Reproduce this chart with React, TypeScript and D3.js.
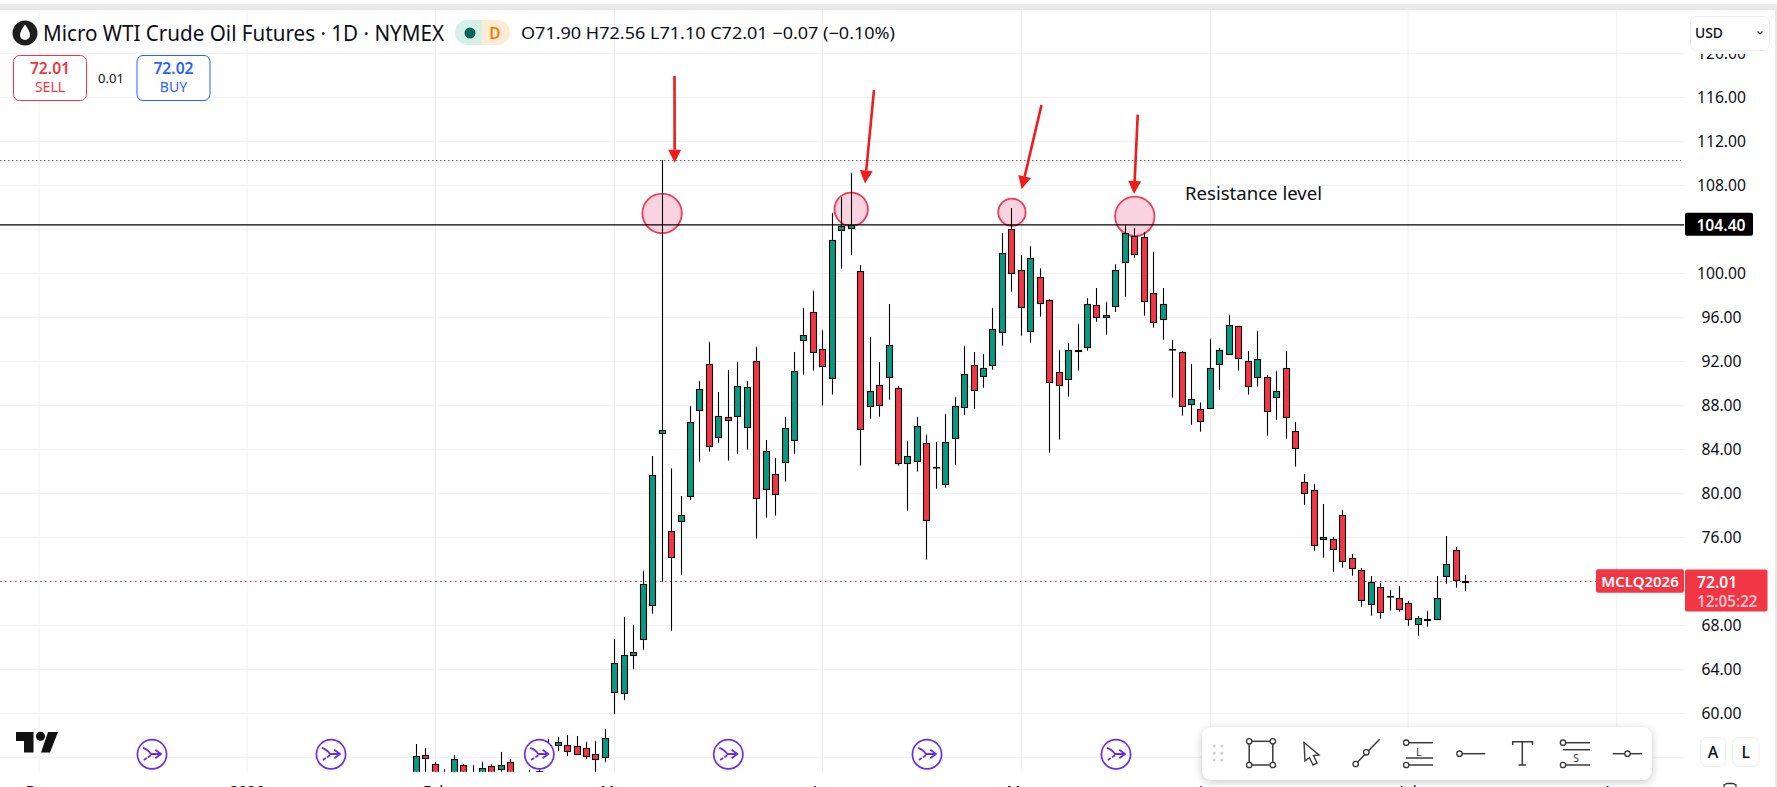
import React from "react";
import * as d3 from "d3";

const opens = [54.24,56.18,55.36,54.55,54.24,55.27,54.4,54.24,55.18,54.91,55.55,54.4,54.55,54.24,56.06,57.15,57.09,57.0,56.82,56.27,56.06,61.97,61.88,65.33,66.79,69.81,85.51,76.54,77.45,79.72,87.54,91.73,85.09,86.91,86.99,86.0,92.0,80.36,81.73,82.82,84.82,93.91,96.45,93.09,90.45,103.91,104.09,100.18,87.91,89.82,90.54,89.54,82.73,82.91,84.54,82.42,80.82,85.0,87.82,91.63,90.63,91.63,94.63,104.0,100.27,94.73,99.63,97.54,91.0,90.36,93.03,93.27,97.09,96.0,97.0,101.0,103.36,103.27,98.18,95.82,93.15,92.82,88.09,87.63,87.73,91.73,92.63,95.18,92.0,90.54,90.54,88.73,91.36,85.63,81.0,80.27,75.81,75.81,78.0,74.09,73.0,69.9,71.45,70.69,70.45,70.0,68.09,68.56,68.54,72.45,74.81,71.9];
const highs = [57.21,56.82,55.58,54.91,56.18,55.39,55.3,55.58,55.36,56.49,55.82,54.55,54.85,55.76,57.67,57.85,58.03,57.94,57.39,57.49,58.58,66.76,68.76,68.03,72.94,83.39,110.3,82.27,79.75,87.94,90.21,93.76,89.21,91.21,91.94,90.21,93.3,84.85,83.21,86.94,92.85,96.85,98.39,94.85,105.48,106.97,109.12,100.73,94.21,91.94,97.21,89.76,84.76,86.94,85.3,84.66,87.21,88.76,93.39,92.85,92.66,96.85,103.66,105.94,101.63,102.45,100.45,97.63,93.03,93.66,95.39,97.73,98.66,97.39,100.82,104.42,104.09,103.73,101.94,98.66,93.94,92.94,91.76,88.27,94.03,93.21,96.21,95.18,92.94,94.76,90.76,91.12,92.94,86.48,81.75,80.84,79.03,76.03,78.48,74.48,73.21,72.48,71.87,71.21,71.57,70.21,68.84,69.3,72.48,76.12,75.12,72.56];
const lows = [53.94,53.94,53.94,54.0,54.0,54.0,53.8,54.0,54.0,54.55,54.24,53.9,54.0,54.0,55.76,56.58,56.12,56.33,55.85,54.55,55.58,59.94,61.21,64.03,65.76,69.06,71.97,67.51,72.6,79.39,82.88,83.79,84.6,82.97,83.6,83.97,75.88,77.79,77.97,81.06,83.6,90.79,91.15,87.97,88.97,100.42,101.69,82.51,86.78,86.97,88.51,82.51,78.42,81.97,73.97,80.42,80.51,82.6,87.12,87.69,89.6,91.24,93.42,98.33,94.33,93.7,96.06,83.69,84.88,88.79,91.15,92.97,95.6,94.42,96.48,97.88,101.42,96.15,95.06,93.97,88.7,87.06,86.24,85.6,87.73,89.42,92.63,91.15,88.97,89.7,85.24,86.69,84.97,82.42,78.96,74.78,74.15,72.87,73.24,72.51,69.69,68.87,68.6,69.33,69.24,67.96,67.06,67.87,68.54,71.78,71.42,71.1];
const closes = [56.09,55.91,54.24,54.09,55.82,54.24,53.94,55.0,54.24,55.27,54.55,54.1,54.24,54.79,57.12,57.36,56.61,56.33,56.15,55.88,57.73,64.55,65.27,65.55,71.73,81.63,85.72,74.18,78.0,86.45,89.45,84.27,86.99,86.63,89.73,89.63,79.54,83.82,79.91,85.91,91.09,94.36,92.82,91.54,103.0,104.27,104.36,85.82,89.27,88.0,93.45,82.73,83.36,86.09,77.54,82.36,84.63,87.91,90.82,89.36,91.36,94.91,101.82,100.0,96.91,101.36,97.27,90.09,89.82,93.0,92.97,97.18,96.0,96.18,100.27,103.63,101.72,97.45,95.54,97.18,93.09,87.91,88.54,86.54,91.36,93.0,95.27,92.27,89.73,92.18,87.45,89.27,86.91,84.09,80.0,75.27,76.0,74.9,73.81,73.18,70.27,71.9,69.18,70.63,69.45,68.54,68.63,68.52,70.45,73.54,72.09,72.01];

const priceTicks = [116,112,108,100,96,92,88,84,80,76,68,64,60];
const clippedTick = 120;
const gridPrices = [120,116,112,108,104,100,96,92,88,84,80,76,72,68,64,60,56];
const gridXs = [39,247,435.7,614.5,822.5,1021.7,1210.4,1408,1616.7];
const timeLabels = ["Dec","2026","Feb","Mar","Apr","May","Jun","Jul","Aug"];
const dividendXs = [152,331,539.3,728.3,927,1116];

const circleIdx = [26,46,63,76];
const circlePrice = [105.45,105.82,105.55,105.18];
const circleR = [19.7,16.7,13.7,19.7];
const arrowFromIdx = [27.31,48.41,66.13,76.31];
const arrowFromPrice = [117.94,116.66,115.3,114.43];
const arrowToIdx = [27.33,47.46,64.03,75.92];
const arrowToPrice = [110.05,108.16,107.64,107.21];

const resistance = 104.4;
const highLevel = 110.3;
const lastPrice = 72.01;

const W = 1777, H = 787;
const y = d3.scaleLinear().domain([116, 60]).range([97.3, 713.3]);
const x = d3.scaleLinear().domain([0, 111]).range([416.3, 1465.7]);
const FONT = "'Noto Sans', sans-serif";
const GREEN = "#089981", RED = "#f23645", PURPLE = "#6a2cf5", INK = "#0b0e14";
const snap = (v: number) => Math.floor(v) + 0.5;

function Arrow({ x1, y1, x2, y2 }: { x1: number; y1: number; x2: number; y2: number }) {
  const a = Math.atan2(y2 - y1, x2 - x1);
  const len = 13, hw = 6.5;
  const bx = x2 - len * Math.cos(a), by = y2 - len * Math.sin(a);
  const nx = -Math.sin(a), ny = Math.cos(a);
  return (
    <g>
      <line x1={x1} y1={y1} x2={bx} y2={by} stroke="#ee1c1c" strokeWidth={2.6} />
      <polygon points={`${x2},${y2} ${bx + nx * hw},${by + ny * hw} ${bx - nx * hw},${by - ny * hw}`} fill="#ee1c1c" />
    </g>
  );
}

function Dividend({ cx }: { cx: number }) {
  const cy = 754.3;
  return (
    <g>
      <circle cx={cx} cy={cy} r={14.6} fill="#fff" stroke={PURPLE} strokeWidth={1.7} />
      <path d={`M${cx - 9},${cy - 6.5} Q${cx - 4},${cy - 5} ${cx - 1},${cy - 0.3} L${cx + 9},${cy - 0.3}`} fill="none" stroke={PURPLE} strokeWidth={1.8} />
      <path d={`M${cx + 3.3},${cy - 4.5} L${cx + 9},${cy - 0.3} L${cx + 3.3},${cy + 4}`} fill="none" stroke={PURPLE} strokeWidth={1.8} />
      <path d={`M${cx - 1},${cy + 1} L${cx - 8.7},${cy + 6}`} fill="none" stroke={PURPLE} strokeWidth={1.8} strokeDasharray="3.5,1.5" />
    </g>
  );
}

function Toolbar() {
  const s = "#3a3a3a";
  const dot = (cx: number, cy: number) => <circle cx={cx} cy={cy} r={2.7} fill="#fff" stroke={s} strokeWidth={1.3} />;
  const ln = (a: number, b: number, c: number, d: number, w = 1.5) => <line x1={a} y1={b} x2={c} y2={d} stroke={s} strokeWidth={w} />;
  return (
    <g>
      <rect x={1202} y={727} width={450} height={53} rx={9} fill="#fff" style={{ filter: "drop-shadow(0 2px 4px rgba(0,0,0,0.22))" }} />
      {[1214.2, 1221.8].flatMap((gx) => [746, 753.3, 760].map((gy) => <circle key={gx + "-" + gy} cx={gx} cy={gy} r={1.5} fill="#cfcfcf" />))}
      <rect x={1249.2} y={741.3} width={23.6} height={23.7} fill="none" stroke={s} strokeWidth={1.5} />
      {dot(1249.2, 741.3)}{dot(1272.8, 741.3)}{dot(1249.2, 765)}{dot(1272.8, 765)}
      <path d="M1304,742.5 L1319,755 L1313.5,755.5 L1317,763 L1313,765 L1309.5,757.5 L1305,761 Z" fill="#fff" stroke={s} strokeWidth={1.4} />
      {ln(1355.7, 764, 1379.6, 739.3)}{dot(1355.7, 764)}{dot(1366.3, 752.3)}
      {ln(1406, 742.7, 1433, 742.7)}{ln(1406, 758, 1433, 758)}{ln(1406, 765, 1433, 765)}{dot(1406.2, 742.7)}{dot(1406.2, 765)}
      <text x={1419} y={755.5} fontSize={11} fontFamily={FONT} fill={s} textAnchor="middle">L</text>
      {ln(1459.5, 753.7, 1485.3, 753.7)}{dot(1459.5, 753.7)}
      <path d="M1512.7,745 L1512.7,741.7 L1532.5,741.7 L1532.5,745 M1522.3,741.7 L1522.3,765 M1518.5,765 L1526,765" fill="none" stroke={s} strokeWidth={1.5} />
      {ln(1563, 742.7, 1590, 742.7)}{ln(1563, 749.7, 1590, 749.7)}{ln(1563, 765, 1590, 765)}{dot(1563, 742.7)}{dot(1563, 765)}
      <text x={1576} y={761.5} fontSize={11} fontFamily={FONT} fill={s} textAnchor="middle">S</text>
      {ln(1612.7, 753.7, 1642, 753.7)}{dot(1627.5, 753.7)}
    </g>
  );
}

export default function App() {
  return (
    <svg width={W} height={H} viewBox={`0 0 ${W} ${H}`} style={{ position: "fixed", left: 0, top: 0, background: "#fff" }} fontFamily={FONT}>
      <defs>
        <clipPath id="pane"><rect x={0} y={10} width={1684} height={761.7} /></clipPath>
        <clipPath id="axis"><rect x={1685} y={54} width={90} height={720} /></clipPath>
      </defs>
      <rect x={0} y={4} width={W} height={6} fill="#e9e9e9" />
      <rect x={W - 2} y={4} width={2} height={H} fill="#e9e9e9" />

      <g clipPath="url(#pane)">
        {gridXs.map((gx) => <line key={gx} x1={gx} x2={gx} y1={10} y2={771.7} stroke="#f0f0f0" />)}
        {gridPrices.map((p) => <line key={p} x1={0} x2={1684} y1={y(p)} y2={y(p)} stroke="#f0f0f0" />)}
        <line x1={0} x2={1681} y1={Math.floor(y(highLevel)) + 0.5} y2={Math.floor(y(highLevel)) + 0.5} stroke="#7d6a6a" strokeDasharray="1.5,2.5" />
        <line x1={0} x2={1596} y1={Math.floor(y(lastPrice)) + 0.5} y2={Math.floor(y(lastPrice)) + 0.5} stroke={RED} strokeDasharray="1.6,3.4" />
        {circleIdx.map((ci, k) => (
          <circle key={ci} cx={x(ci)} cy={y(circlePrice[k])} r={circleR[k]} fill="#fad2e0" stroke="#f23a55" strokeWidth={1.8} />
        ))}
        {opens.map((o, i) => {
          const c = closes[i];
          const cx = snap(x(i));
          const top = Math.round(y(Math.max(o, c))) + 0.5;
          const bot = Math.round(y(Math.min(o, c))) + 0.5;
          return (
            <g key={i}>
              <line x1={cx} x2={cx} y1={y(highs[i])} y2={y(lows[i])} stroke="#000" strokeWidth={1.1} />
              <rect x={cx - 3} y={top} width={6} height={Math.max(bot - top, 0.5)} fill={c >= o ? GREEN : RED} stroke="#000" strokeWidth={1.1} />
            </g>
          );
        })}
        <line x1={0} x2={1684} y1={y(resistance)} y2={y(resistance)} stroke="#000" strokeWidth={1.3} />
      </g>

      {arrowFromIdx.map((ai, k) => (
        <Arrow key={ai} x1={x(ai)} y1={y(arrowFromPrice[k])} x2={x(arrowToIdx[k])} y2={y(arrowToPrice[k])} />
      ))}
      <text x={1185} y={200} fontSize={17.5} fill={INK} textLength={137} lengthAdjust="spacingAndGlyphs">Resistance level</text>

      <path d="M16,732 H33.5 V752.5 H24 V741 H16 Z" fill="#111" />
      <circle cx={40.5} cy={736.3} r={4.5} fill="#111" />
      <path d="M48,732 H58 L50,752.5 H41 Z" fill="#111" />
      {dividendXs.map((d) => <Dividend key={d} cx={d} />)}

      {timeLabels.map((t, k) => (
        <text key={t} x={gridXs[k]} y={796} fontSize={15} fill={INK} textAnchor="middle">{t}</text>
      ))}

      {/* price axis */}
      <g clipPath="url(#axis)" fontSize={15.7} fill={INK} textAnchor="middle">
        <text x={1721.5} y={y(clippedTick) + 5.6}>120.00</text>
        {priceTicks.map((t) => <text key={t} x={1721.5} y={y(t) + 5.6}>{t.toFixed(2)}</text>)}
      </g>
      <rect x={1685} y={212.7} width={68} height={23} rx={2} fill="#000" />
      <text x={1721} y={y(resistance) + 6} fontSize={15.7} fontWeight={600} fill="#fff" textAnchor="middle">{resistance.toFixed(2)}</text>
      <rect x={1596} y={569.3} width={88} height={23.4} rx={2} fill={RED} />
      <text x={1640} y={586.5} fontSize={15} fontWeight={600} fill="#fff" textAnchor="middle">MCLQ2026</text>
      <rect x={1685} y={569.6} width={82.5} height={42} rx={2} fill={RED} />
      <text x={1697} y={588} fontSize={15.7} fontWeight={600} fill="#fff">{lastPrice.toFixed(2)}</text>
      <text x={1697} y={607} fontSize={15.2} fontWeight={600} fill="#fbc3c9">12:05:22</text>

      {/* header */}
      <circle cx={25} cy={33} r={12.5} fill="#1e1e1e" />
      <path d="M25,24.5 C28,29 30,32 30,35 A5,5 0 0 1 20,35 C20,32 22,29 25,24.5 Z" fill="#fff" />
      <text x={43} y={41} fontSize={21} fill={INK} textLength={401} lengthAdjust="spacingAndGlyphs">Micro WTI Crude Oil Futures · 1D · NYMEX</text>
      <path d="M482,20 H467.5 A12.5,12.5 0 0 0 467.5,45 H482 Z" fill="#d5efe9" />
      <path d="M482,20 H497.5 A12.5,12.5 0 0 1 497.5,45 H482 Z" fill="#ffecd2" />
      <circle cx={470} cy={33} r={5.5} fill="#056656" />
      <text x={495} y={38.5} fontSize={15.5} fontWeight={600} fill="#f57c00" textAnchor="middle">D</text>
      <text x={521} y={39} fontSize={16.2} fill={INK} textLength={374} lengthAdjust="spacingAndGlyphs">O71.90 H72.56 L71.10 C72.01 −0.07 (−0.10%)</text>

      <rect x={13.5} y={55.5} width={73} height={45} rx={6} fill="#fff" stroke={RED} />
      <text x={50} y={74} fontSize={15.7} fontWeight={600} fill={RED} textAnchor="middle">72.01</text>
      <text x={50} y={92} fontSize={14} fill={RED} textAnchor="middle">SELL</text>
      <text x={111} y={83} fontSize={13} fill={INK} textAnchor="middle">0.01</text>
      <rect x={137} y={55.5} width={73} height={45} rx={6} fill="#fff" stroke="#2962ff" />
      <text x={173.5} y={74} fontSize={15.7} fontWeight={600} fill="#2962ff" textAnchor="middle">72.02</text>
      <text x={173.5} y={92} fontSize={14} fill="#2962ff" textAnchor="middle">BUY</text>

      <rect x={1690.5} y={16.5} width={79} height={34} rx={6} fill="#fff" stroke="#ececec" />
      <text x={1695} y={38} fontSize={15} fontWeight={500} fill={INK} textLength={28} lengthAdjust="spacingAndGlyphs">USD</text>
      <path d="M1757.5,31.5 L1760,34 L1762.5,31.5" fill="none" stroke="#131722" strokeWidth={1.2} />

      <Toolbar />

      <rect x={1700.5} y={737.5} width={25} height={29} rx={6} fill="#fff" stroke="#ececec" />
      <text x={1713} y={758} fontSize={16} fontWeight={500} fill={INK} textAnchor="middle">A</text>
      <rect x={1732.5} y={737.5} width={26.5} height={29} rx={6} fill="#fff" stroke="#ececec" />
      <text x={1745.7} y={758} fontSize={16} fontWeight={500} fill={INK} textAnchor="middle">L</text>
      <path d="M1724,790 L1724,785 L1727,783.5 L1733,783.5 L1736,785 L1736,790" fill="none" stroke="#333" strokeWidth={1.3} />
    </svg>
  );
}
